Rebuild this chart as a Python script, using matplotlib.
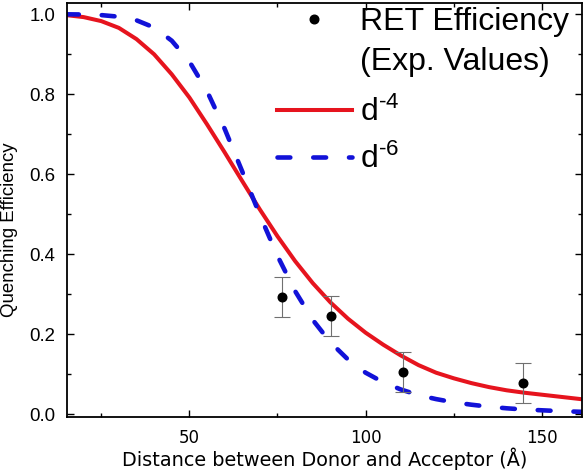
import matplotlib
matplotlib.use("Agg")
import matplotlib.pyplot as plt
from matplotlib.lines import Line2D
from matplotlib.ticker import MultipleLocator, FormatStrFormatter

plt.rcParams['mathtext.fontset'] = 'custom'
plt.rcParams['mathtext.rm'] = 'Liberation Sans'
plt.rcParams['mathtext.default'] = 'regular'

# Distance grid (Å) used for the model curves
dist = [15, 20, 25, 30, 35, 40, 45, 50, 55, 60, 65, 70, 75, 80, 85, 90, 95,
        100, 105, 110, 115, 120, 125, 130, 135, 140, 145, 150, 155, 162]
# d^-4 model curve
eff_d4 = [0.998, 0.993, 0.983, 0.966, 0.938, 0.900, 0.850, 0.792, 0.725, 0.655,
          0.583, 0.512, 0.445, 0.383, 0.328, 0.280, 0.239, 0.204, 0.174, 0.147,
          0.123, 0.104, 0.090, 0.078, 0.068, 0.060, 0.054, 0.049, 0.044, 0.037]
# d^-6 model curve
eff_d6 = [1.000, 0.9995, 0.998, 0.994, 0.985, 0.967, 0.934, 0.882, 0.808, 0.714,
          0.607, 0.498, 0.396, 0.308, 0.236, 0.180, 0.137, 0.104, 0.080, 0.062,
          0.048, 0.038, 0.030, 0.024, 0.019, 0.015, 0.012, 0.010, 0.008, 0.006]
# Experimental RET efficiencies
exp_dist = [76.4, 90.3, 110.7, 144.7]
exp_eff = [0.293, 0.246, 0.105, 0.078]
exp_err = [0.050, 0.050, 0.050, 0.050]

W, H = 585, 472
fig = plt.figure(figsize=(W / 100, H / 100), dpi=100)
ax = fig.add_axes([66.7 / W, 1 - 416.7 / H, (581.7 - 66.7) / W, (416.7 - 2.7) / H])

red = '#e6141e'
blue = '#1212d8'
dash_pat = (2.8, 5.0)

ax.plot(dist, eff_d4, color=red, lw=2.9, solid_capstyle='butt')
ax.plot(dist, eff_d6, color=blue, lw=3.3, dashes=dash_pat, dash_capstyle='round')
ax.errorbar(exp_dist, exp_eff, yerr=exp_err, fmt='o', color='black', ms=6.2,
            ecolor='#707070', elinewidth=0.8, capsize=5.5, capthick=0.8, zorder=5)

ax.set_xlim(15.2, 161.3)
ax.set_ylim(-0.006, 1.029)
ax.xaxis.set_major_locator(MultipleLocator(50))
ax.xaxis.set_minor_locator(MultipleLocator(25))
ax.yaxis.set_major_locator(MultipleLocator(0.2))
ax.yaxis.set_minor_locator(MultipleLocator(0.1))
ax.yaxis.set_major_formatter(FormatStrFormatter('%.1f'))

for s in ax.spines.values():
    s.set_linewidth(1.3)
ax.tick_params(which='both', direction='in', top=True, right=True, width=1.0)
ax.tick_params(which='major', length=5)
ax.tick_params(which='minor', length=3)
ax.tick_params(axis='y', pad=8.2, labelsize=13.4)
ax.tick_params(axis='x', pad=8.7, labelsize=12)
for lab in ax.get_yticklabels():
    lab.set_fontfamily('Liberation Sans')
for lab in ax.get_xticklabels():
    lab.set_fontfamily('DejaVu Sans')

ax.set_xlabel('Distance between Donor and Acceptor (Å)', fontsize=13.9,
              family='DejaVu Sans', labelpad=0.3)
ax.set_ylabel('Quenching Efficiency', fontsize=13.4, family='Liberation Sans')
ax.yaxis.set_label_coords(-0.0955, 0.451)

fs = 23
hl = 75 / (fs * 100 / 72)
htp = 8.3 / (fs * 100 / 72)
x0 = 276.7 / W

h1 = [Line2D([], [], marker='o', color='black', ls='none', ms=6.2),
      Line2D([], [], ls='none')]
l1 = ['RET Efficiency', '(Exp. Values)']
leg1 = ax.legend(h1, l1, loc='upper left', frameon=False,
                 prop={'family': 'Liberation Sans', 'size': fs},
                 handlelength=hl, handletextpad=htp, labelspacing=0.33,
                 borderpad=0, borderaxespad=0,
                 bbox_to_anchor=(x0, 1 - 6.8 / H), bbox_transform=fig.transFigure)
ax.add_artist(leg1)

h2 = [Line2D([], [], color=red, lw=2.9),
      Line2D([], [], color=blue, lw=3.3, dashes=dash_pat, dash_capstyle='round')]
l2 = [r'd$^{\text{-}4}$', r'd$^{\text{-}6}$']
leg2 = ax.legend(h2, l2, loc='upper left', frameon=False,
                 prop={'family': 'Liberation Sans', 'size': fs},
                 handlelength=hl, handletextpad=htp, labelspacing=0.48,
                 borderpad=0, borderaxespad=0,
                 bbox_to_anchor=(x0, 1 - 97 / H), bbox_transform=fig.transFigure)

fig.savefig('out.png', dpi=100)
